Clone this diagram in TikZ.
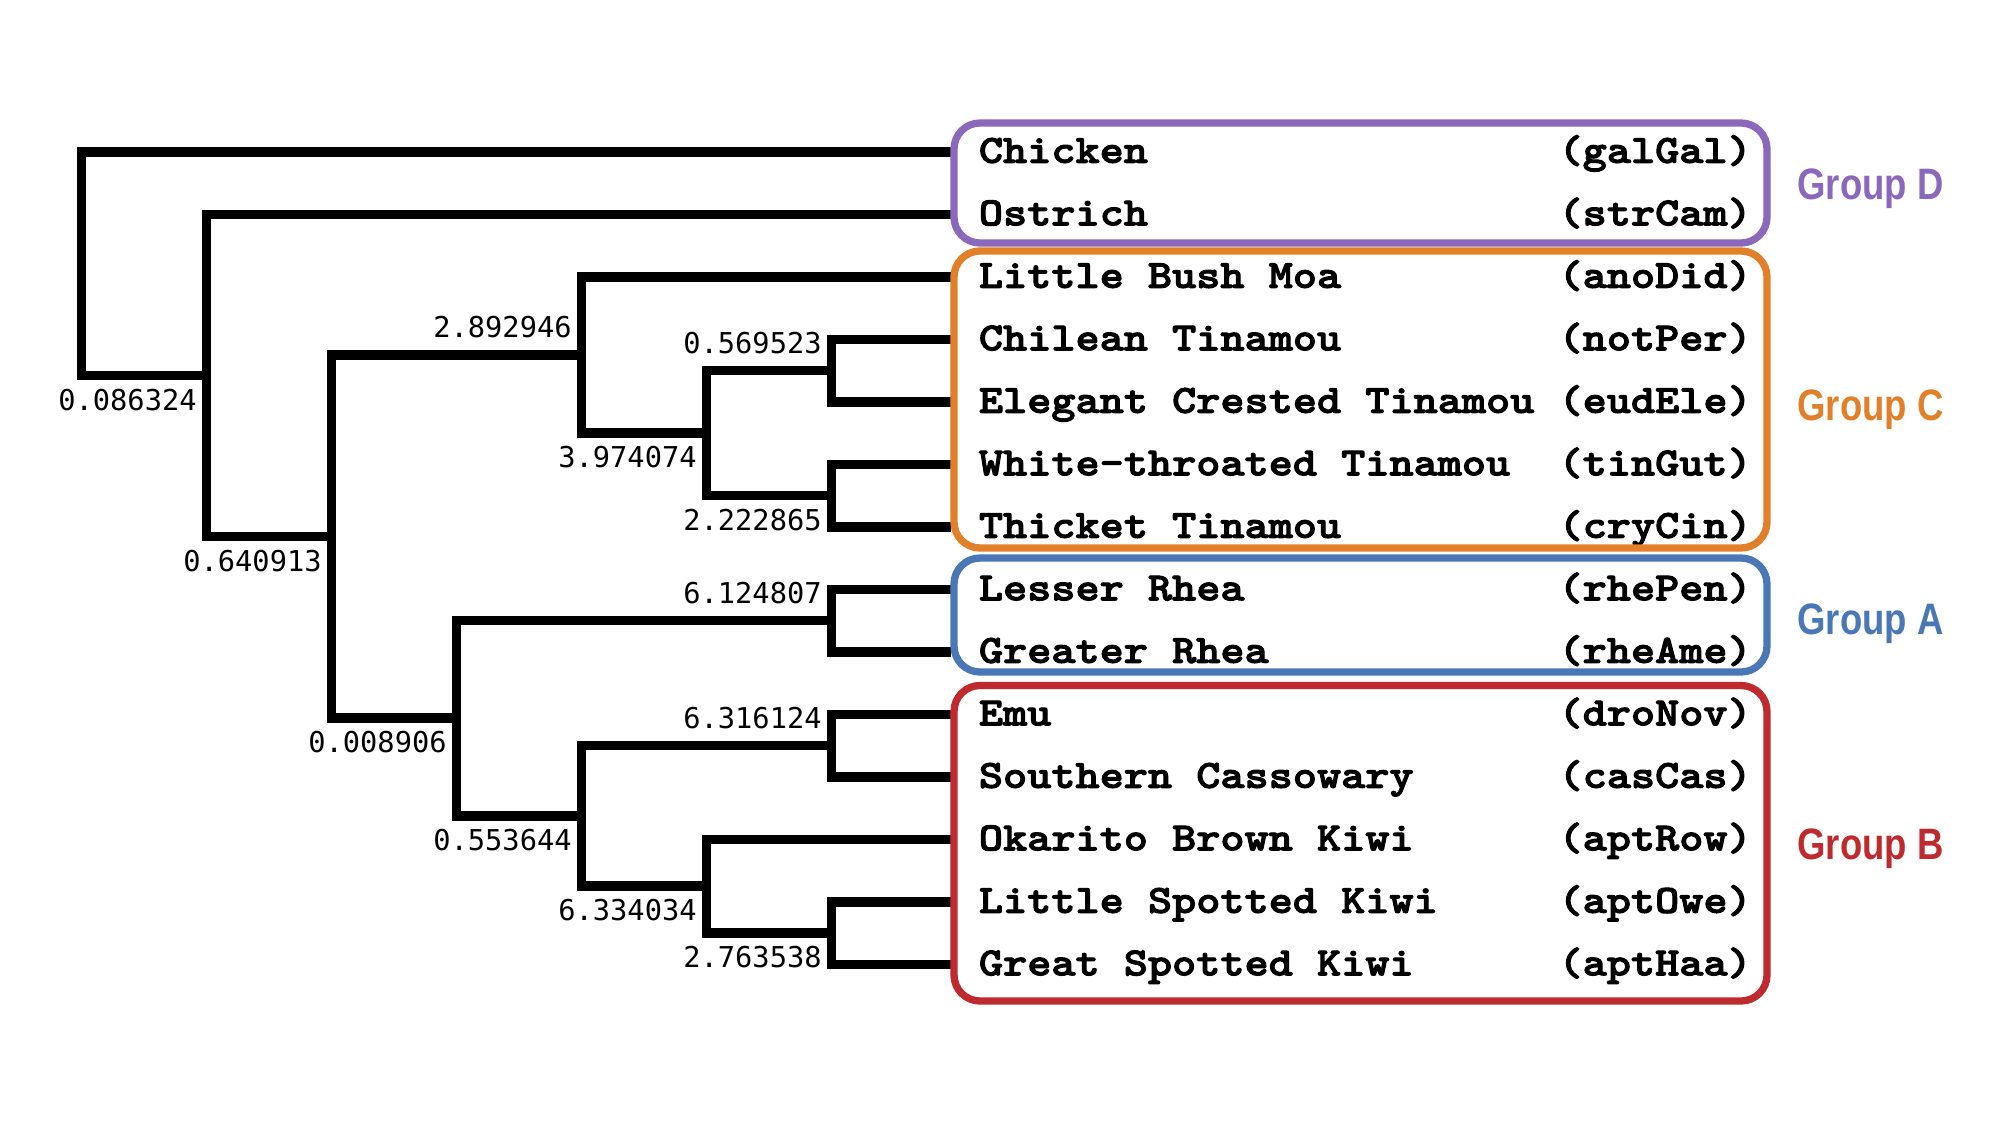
\documentclass[tikz,border=0pt]{standalone}
\usepackage{fontspec}
\newfontfamily\numfont{DejaVu Sans Mono}
\newfontfamily\namefont{Latin Modern Mono Light}[FakeStretch=1.15,FakeBold=2.5]
\newfontfamily\grpfont{Liberation Sans}[FakeStretch=0.83]
\definecolor{gD}{HTML}{8B68BC}
\definecolor{gC}{HTML}{E2802A}
\definecolor{gA}{HTML}{4A77B6}
\definecolor{gB}{HTML}{BF2A2F}
\begin{document}
\begin{tikzpicture}[x=0.5pt,y=-0.5pt,
 branch/.style={line width=4.75pt, line join=miter, draw=black},
 num/.style={font=\numfont\fontsize{14.35pt}{16pt}\selectfont, inner sep=0pt, anchor=base east},
 taxon/.style={font=\namefont\bfseries\fontsize{20pt}{22pt}\selectfont, inner sep=0pt, anchor=base west},
 grpbox/.style={line width=3.65pt, rounded corners=13pt},
 grplabel/.style={font=\grpfont\bfseries\fontsize{22pt}{24pt}\selectfont, inner sep=0pt, anchor=base west}]
\fill[white] (0,0) rectangle (2000,1125);
\useasboundingbox (0,0) rectangle (2000,1125);
% leaves
\foreach \i/\nm/\cd in {0/Chicken/galGal, 1/Ostrich/strCam, 2/Little Bush Moa/anoDid,
  3/Chilean Tinamou/notPer, 4/Elegant Crested Tinamou/eudEle, 5/White-throated Tinamou/tinGut,
  6/Thicket Tinamou/cryCin, 7/Lesser Rhea/rhePen, 8/Greater Rhea/rheAme, 9/Emu/droNov,
  10/Southern Cassowary/casCas, 11/Okarito Brown Kiwi/aptRow, 12/Little Spotted Kiwi/aptOwe,
  13/Great Spotted Kiwi/aptHaa}{
  \coordinate (L\i) at (951,151.8+62.5*\i);
  \node[taxon] (t\i) at (978.5,162.8+62.5*\i) {\nm};
  \node[taxon] (c\i) at (1558.1,162.8+62.5*\i) {(\cd)};
}
% internal nodes
\coordinate (root) at (81.5,263.6);
\coordinate (nOs) at (206.5,375.4);
\coordinate (nPal) at (331.5,536.55);
\coordinate (nMT) at (581.5,354.9);
\coordinate (nT) at (706.5,433.05);
\coordinate (nT1) at (831.5,370.55);
\coordinate (nT2) at (831.5,495.55);
\coordinate (nAB) at (456.5,718.2);
\coordinate (nR) at (831.5,620.55);
\coordinate (nB) at (581.5,815.9);
\coordinate (nEC) at (831.5,745.55);
\coordinate (nKO) at (706.5,886.2);
\coordinate (nK) at (831.5,933.05);
% branches
\draw[branch] (L0) -| (root) |- (nOs);
\draw[branch] (L1) -| (nOs) |- (nPal);
\draw[branch] (nMT) -| (nPal) |- (nAB);
\draw[branch] (L2) -| (nMT) |- (nT);
\draw[branch] (nT1) -| (nT) |- (nT2);
\draw[branch] (L3) -| (nT1) |- (L4);
\draw[branch] (L5) -| (nT2) |- (L6);
\draw[branch] (nR) -| (nAB) |- (nB);
\draw[branch] (L7) -| (nR) |- (L8);
\draw[branch] (nEC) -| (nB) |- (nKO);
\draw[branch] (L9) -| (nEC) |- (L10);
\draw[branch] (L11) -| (nKO) |- (nK);
\draw[branch] (L12) -| (nK) |- (L13);
% branch labels
\node[num] (lOs) at ([shift={(-9.5,34.6)}]nOs) {0.086324};
\node[num] (lPal) at ([shift={(-9.5,34.6)}]nPal) {0.640913};
\node[num] (lMT) at ([shift={(-9.5,-17)}]nMT) {2.892946};
\node[num] (lT) at ([shift={(-9.5,34.6)}]nT) {3.974074};
\node[num] (lT1) at ([shift={(-9.5,-17)}]nT1) {0.569523};
\node[num] (lT2) at ([shift={(-9.5,34.6)}]nT2) {2.222865};
\node[num] (lAB) at ([shift={(-9.5,34.6)}]nAB) {0.008906};
\node[num] (lR) at ([shift={(-9.5,-17)}]nR) {6.124807};
\node[num] (lB) at ([shift={(-9.5,34.6)}]nB) {0.553644};
\node[num] (lEC) at ([shift={(-9.5,-17)}]nEC) {6.316124};
\node[num] (lKO) at ([shift={(-9.5,34.6)}]nKO) {6.334034};
\node[num] (lK) at ([shift={(-9.5,34.6)}]nK) {2.763538};
% group boxes
\draw[grpbox, draw=gD] (954,123) rectangle (1767,243);
\draw[grpbox, draw=gC] (954,251) rectangle (1767,548);
\draw[grpbox, draw=gA] (954,558) rectangle (1767,672);
\draw[grpbox, draw=gB] (954,685.5) rectangle (1767,1001);
% group labels
\node[grplabel, text=gD] (gDl) at (1797,199.3) {Group D};
\node[grplabel, text=gC] (gCl) at (1797,420.7) {Group C};
\node[grplabel, text=gA] (gAl) at (1797,634.3) {Group A};
\node[grplabel, text=gB] (gBl) at (1797,859.3) {Group B};
\end{tikzpicture}
\end{document}
